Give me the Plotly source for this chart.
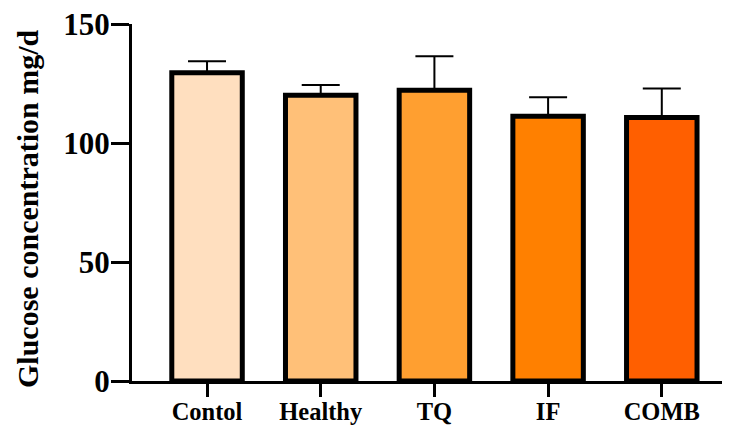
import plotly.graph_objects as go

categories = ["Contol", "Healthy", "TQ", "IF", "COMB"]
means = [129.5, 120.1, 122.2, 111.2, 110.7]
errors_up = [4.8, 4.3, 14.3, 8.0, 12.2]
colors = ["#FFDFBF", "#FFC078", "#FF9F30", "#FF8000", "#FF5F00"]
y_ticks = [0, 50, 100, 150]
y_title = "Glucose concentration mg/d"

FONT = "Liberation Serif"

# page body has an 8px margin, so the figure is shrunk to fit the 730x425 window
W, H = 722, 417
L, T, B = 124, 16, 44
PW, PH = W - L, H - T - B

fig = go.Figure()
fig.add_trace(go.Bar(
    x=categories,
    y=means,
    width=0.62,
    marker=dict(color=colors, line=dict(color="black", width=5)),
    error_y=dict(type="data", array=errors_up, arrayminus=[0] * len(means),
                 symmetric=False, color="black", thickness=2, width=19),
))

fig.update_layout(
    width=W, height=H,
    margin=dict(l=L, r=0, t=T, b=B),
    paper_bgcolor="white", plot_bgcolor="white",
    showlegend=False,
    font=dict(family=FONT, color="black"),
    xaxis=dict(
        range=[-0.66, 4.6],
        automargin=False,
        showline=True, linecolor="black", linewidth=3,
        ticks="outside", ticklen=13, tickwidth=3, tickcolor="black",
        tickfont=dict(family=FONT, size=24.5, color="black", weight="bold"),
        ticklabelstandoff=-6,
        ticklabeloverflow="allow",
        showgrid=False, zeroline=False,
    ),
    yaxis=dict(
        range=[0, 150],
        automargin=False,
        tickvals=y_ticks,
        showline=True, linecolor="black", linewidth=3,
        ticks="outside", ticklen=18, tickwidth=3, tickcolor="black",
        tickfont=dict(family=FONT, size=31, color="black", weight="bold"),
        ticklabelstandoff=-5,
        ticklabeloverflow="allow",
        showgrid=False, zeroline=False,
    ),
    annotations=[dict(
        text=y_title, textangle=-90,
        xref="paper", yref="paper", x=-(L - 20) / PW, y=(PH - (209 - 24)) / PH,
        xanchor="center", yanchor="middle", showarrow=False,
        font=dict(family=FONT, size=30, color="black", weight="bold"),
    )],
)

fig.write_html("out.html")
